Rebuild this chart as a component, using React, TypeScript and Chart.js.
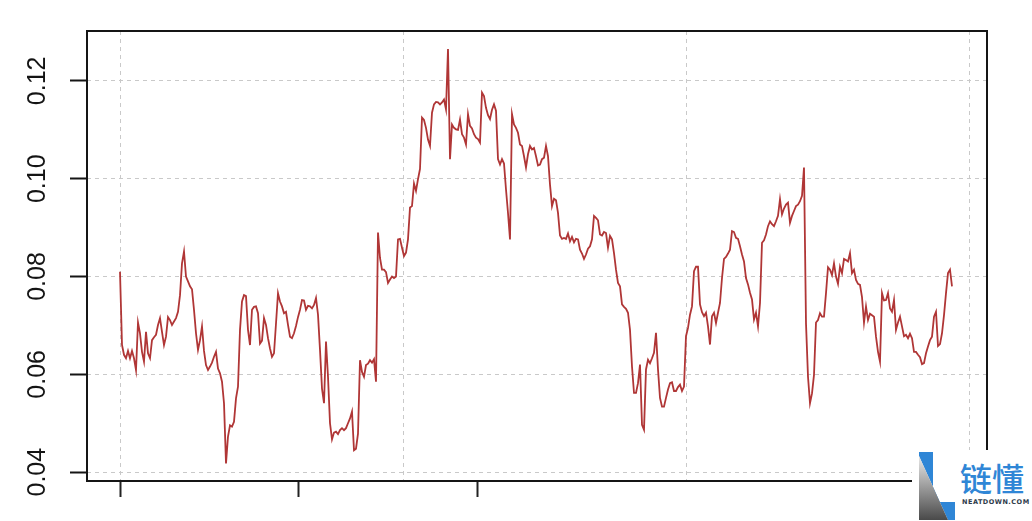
import React, { useEffect, useRef } from "react";
import { Chart, registerables } from "chart.js";

Chart.register(...registerables);

// Series values, one per time step
const seriesPart1 = [
  0.081, 0.066, 0.064, 0.0633, 0.0648, 0.0633, 0.0648, 0.0633, 0.0609, 0.0706,
  0.0684, 0.0646, 0.0626, 0.0687, 0.0643, 0.0633, 0.067, 0.0676, 0.0681, 0.0701,
  0.0715, 0.0687, 0.066, 0.0677, 0.0717, 0.0711, 0.0701, 0.0708, 0.0715, 0.0728,
  0.0762, 0.0827, 0.0851, 0.08, 0.079, 0.078, 0.0774, 0.0732, 0.0684, 0.065,
  0.067, 0.0698, 0.0648, 0.0619, 0.0609, 0.0616, 0.0624, 0.0636, 0.0646, 0.0612,
  0.0602, 0.0585, 0.0541, 0.0418, 0.0473, 0.0496, 0.0493, 0.0503, 0.0551, 0.0575,
  0.0691, 0.0749, 0.0762, 0.076, 0.0691, 0.066, 0.0732, 0.0738, 0.0739, 0.0725,
];
const seriesPart2 = [
  0.0663, 0.0669, 0.0715, 0.0701, 0.0674, 0.0653, 0.0636, 0.0643, 0.0704, 0.0766,
  0.0749, 0.0739, 0.0725, 0.0728, 0.0701, 0.0677, 0.0674, 0.0684, 0.0699, 0.0717,
  0.0732, 0.0752, 0.0751, 0.0732, 0.074, 0.0739, 0.0735, 0.0742, 0.0756, 0.0722,
  0.065, 0.0571, 0.0541, 0.0667, 0.0595, 0.05, 0.0467, 0.0481, 0.0483, 0.0478,
  0.0486, 0.049, 0.0486, 0.049, 0.05, 0.051, 0.0524, 0.0445, 0.0448, 0.0479,
  0.0629, 0.0605, 0.0595, 0.0619, 0.0622, 0.0629, 0.0624, 0.0631, 0.0585,
];
const seriesPart3 = [
  0.089, 0.0838, 0.0814, 0.0814, 0.0809, 0.0787, 0.0794, 0.08, 0.0797, 0.08,
  0.0876, 0.0877, 0.0859, 0.0842, 0.0849, 0.0876, 0.0941, 0.0944, 0.099, 0.0975,
  0.0999, 0.102, 0.1125, 0.112, 0.1104, 0.108, 0.1067, 0.1135, 0.1152, 0.1157,
  0.1156, 0.1152, 0.1156, 0.1162, 0.1142, 0.1265, 0.104, 0.1111, 0.1104, 0.1101,
  0.11, 0.1121, 0.1091, 0.1084, 0.107, 0.1132, 0.1108, 0.1103, 0.1091, 0.1084,
  0.1081, 0.1074, 0.1176, 0.1169, 0.1145, 0.113, 0.1122, 0.1141, 0.1152, 0.1139,
  0.104, 0.1029, 0.104, 0.1031, 0.0978, 0.093, 0.0876, 0.1132, 0.1111, 0.1104,
  0.1094,
];
const seriesPart4 = [
  0.107, 0.1067, 0.1046, 0.1023, 0.105, 0.1067, 0.106, 0.1063, 0.1046, 0.1027,
  0.1029, 0.104, 0.1043, 0.1067, 0.1046, 0.0988, 0.0944, 0.0959, 0.0956, 0.093,
  0.0884, 0.0877, 0.0879, 0.0877, 0.0888, 0.0872, 0.0881, 0.087, 0.0877, 0.0876,
  0.0855, 0.0847, 0.0836, 0.0845, 0.0857, 0.0862, 0.0876, 0.0924, 0.092, 0.0915,
  0.0886, 0.0884, 0.0891, 0.0889, 0.0859, 0.0883, 0.0876, 0.0848, 0.0814, 0.0787,
  0.078, 0.0743, 0.0738, 0.0734, 0.0726, 0.0691, 0.0616, 0.0562, 0.0562, 0.0582,
  0.062, 0.0497, 0.0487, 0.061, 0.063, 0.0623, 0.0633, 0.0644, 0.0685,
];
const seriesPart5 = [
  0.061, 0.0552, 0.0534, 0.0534, 0.0552, 0.0569, 0.0582, 0.0584, 0.0566, 0.0566,
  0.0574, 0.0579, 0.0566, 0.0575, 0.0678, 0.0695, 0.0722, 0.0739, 0.0811, 0.082,
  0.082, 0.0743, 0.0727, 0.0719, 0.0726, 0.0698, 0.0661, 0.0719, 0.0726, 0.0705,
  0.0726, 0.0746, 0.0797, 0.0836, 0.084, 0.0847, 0.0855, 0.0893, 0.0891, 0.0879,
  0.0877, 0.0862, 0.0845, 0.0831, 0.0797, 0.0784, 0.0767, 0.0753, 0.0712, 0.0726,
  0.0698, 0.0746, 0.0869, 0.0874, 0.0886, 0.0903, 0.0913, 0.0907, 0.0903, 0.0913,
  0.0924, 0.0958, 0.0927, 0.0939, 0.0947, 0.0951, 0.091, 0.0924, 0.0934, 0.0944,
  0.0947, 0.0954, 0.0965, 0.1023,
];
const seriesPart6 = [
  0.0704, 0.0595, 0.0541, 0.0561, 0.0599, 0.0706, 0.0711, 0.0725, 0.0718, 0.0718,
  0.0766, 0.0819, 0.0814, 0.0803, 0.0827, 0.08, 0.0785, 0.082, 0.0807, 0.0836,
  0.0834, 0.0831, 0.0848, 0.0807, 0.0814, 0.0793, 0.0785, 0.0783, 0.0758, 0.0706,
  0.0739, 0.0711, 0.0724, 0.0721, 0.0718, 0.0677, 0.0646, 0.0626, 0.0766, 0.0751,
  0.0752, 0.0766, 0.0735, 0.0728, 0.0752, 0.0691, 0.0706, 0.0718, 0.0698, 0.0678,
  0.0681, 0.0674, 0.0683, 0.0674, 0.0646, 0.0646, 0.064, 0.0635, 0.0621, 0.0623,
  0.0643, 0.0657, 0.067, 0.0677, 0.0718, 0.0728, 0.0658, 0.0662, 0.0684, 0.0721,
  0.0766, 0.0807, 0.0814, 0.078,
];

const seriesValues = [
  ...seriesPart1,
  ...seriesPart2,
  ...seriesPart3,
  ...seriesPart4,
  ...seriesPart5,
  ...seriesPart6,
];

const yTickValues = [0.04, 0.06, 0.08, 0.1, 0.12];
const xGridValues = [0, 141.5, 283, 424.5];
const xTickValues = [0, 89, 178.5];

const X_MIN = -16.5;
const X_MAX = 433.5;
const Y_MIN = 0.0382;
const Y_MAX = 0.1302;

const boxPlugin = {
  id: "plotBox",
  afterDraw(chart: any) {
    const { ctx, chartArea: a } = chart;
    ctx.save();
    ctx.strokeStyle = "#151515";
    ctx.lineWidth = 2;
    ctx.strokeRect(a.left, a.top, a.right - a.left, a.bottom - a.top);
    ctx.restore();
  },
};

export default function App() {
  const canvasRef = useRef<HTMLCanvasElement | null>(null);

  useEffect(() => {
    if (!canvasRef.current) return;
    const chart = new Chart(canvasRef.current, {
      type: "line",
      data: {
        datasets: [
          {
            data: seriesValues.map((v, i) => ({ x: i, y: v })),
            borderColor: "#b03636",
            borderWidth: 1.8,
            pointRadius: 0,
            tension: 0,
            fill: false,
            xAxisID: "x",
            yAxisID: "y",
          },
        ],
      },
      options: {
        responsive: false,
        animation: false,
        devicePixelRatio: 1,
        layout: { padding: { top: 31, right: 45, left: 0, bottom: 0 } },
        plugins: {
          legend: { display: false },
          tooltip: { enabled: false },
        },
        scales: {
          x: {
            type: "linear",
            position: "bottom",
            min: X_MIN,
            max: X_MAX,
            afterBuildTicks: (s: any) => {
              s.ticks = xGridValues.map((v) => ({ value: v }));
            },
            afterFit: (s: any) => {
              s.height = 0;
            },
            ticks: { display: false },
            grid: { color: "#c9c9c9", lineWidth: 1, drawTicks: false },
            border: { display: false, dash: [4, 4] },
          },
          xt: {
            type: "linear",
            position: "bottom",
            min: X_MIN,
            max: X_MAX,
            afterBuildTicks: (s: any) => {
              s.ticks = xTickValues.map((v) => ({ value: v }));
            },
            afterFit: (s: any) => {
              s.height = 40;
            },
            ticks: { display: false },
            grid: {
              drawOnChartArea: false,
              drawTicks: true,
              tickLength: 16,
              tickColor: "#222",
              tickWidth: 2,
              color: "#222",
            },
            border: { display: false },
          },
          y: {
            type: "linear",
            position: "left",
            min: Y_MIN,
            max: Y_MAX,
            afterBuildTicks: (s: any) => {
              s.ticks = yTickValues.map((v) => ({ value: v }));
            },
            afterFit: (s: any) => {
              s.width = 87;
            },
            ticks: {
              autoSkip: false,
              minRotation: 90,
              maxRotation: 90,
              crossAlign: "center",
              padding: 8,
              color: "#141414",
              font: { family: '"Liberation Sans", Arial, sans-serif', size: 25 },
              callback: (v: any) => Number(v).toFixed(2),
            },
            grid: {
              color: "#c9c9c9",
              lineWidth: 1,
              tickLength: 17,
              tickColor: "#151515",
              tickWidth: 2,
            },
            border: { display: false, dash: [4, 4] },
          },
        } as any,
      },
      plugins: [boxPlugin],
    });
    return () => chart.destroy();
  }, []);

  return (
    <div
      style={{
        position: "fixed",
        left: 0,
        top: 0,
        width: 1032,
        height: 521,
        background: "#fff",
        overflow: "hidden",
      }}
    >
      <canvas ref={canvasRef} width={1032} height={521} style={{ display: "block" }} />
      <div
        style={{
          position: "absolute",
          left: 912,
          top: 450,
          width: 120,
          height: 71,
          background: "#fff",
        }}
      >
        <div
          style={{
            position: "absolute",
            left: 7,
            top: 2,
            width: 36,
            height: 68,
            background: "#2f86d6",
            clipPath:
              "polygon(0 0, 14px 0, 14px 50px, 36px 50px, 36px 68px, 29px 68px, 0 4px)",
          }}
        />
        <div
          style={{
            position: "absolute",
            left: 7,
            top: 2,
            width: 36,
            height: 68,
            background: "linear-gradient(#f2f2f2, #4a4a4a)",
            clipPath: "polygon(0 4px, 29px 68px, 0 68px)",
          }}
        />
        <div
          style={{
            position: "absolute",
            left: 48,
            top: 9,
            fontFamily: '"Noto Sans CJK SC", sans-serif',
            fontSize: 32,
            lineHeight: "36px",
            fontWeight: 500,
            color: "#2f86d6",
            whiteSpace: "nowrap",
          }}
        >
          链懂
        </div>
        <div
          style={{
            position: "absolute",
            left: 50,
            top: 48,
            fontFamily: '"DejaVu Sans", sans-serif',
            fontSize: 6.5,
            lineHeight: "8px",
            fontWeight: "bold",
            letterSpacing: 0.5,
            color: "#2d3a4a",
            whiteSpace: "nowrap",
          }}
        >
          NEATDOWN.COM
        </div>
      </div>
    </div>
  );
}
